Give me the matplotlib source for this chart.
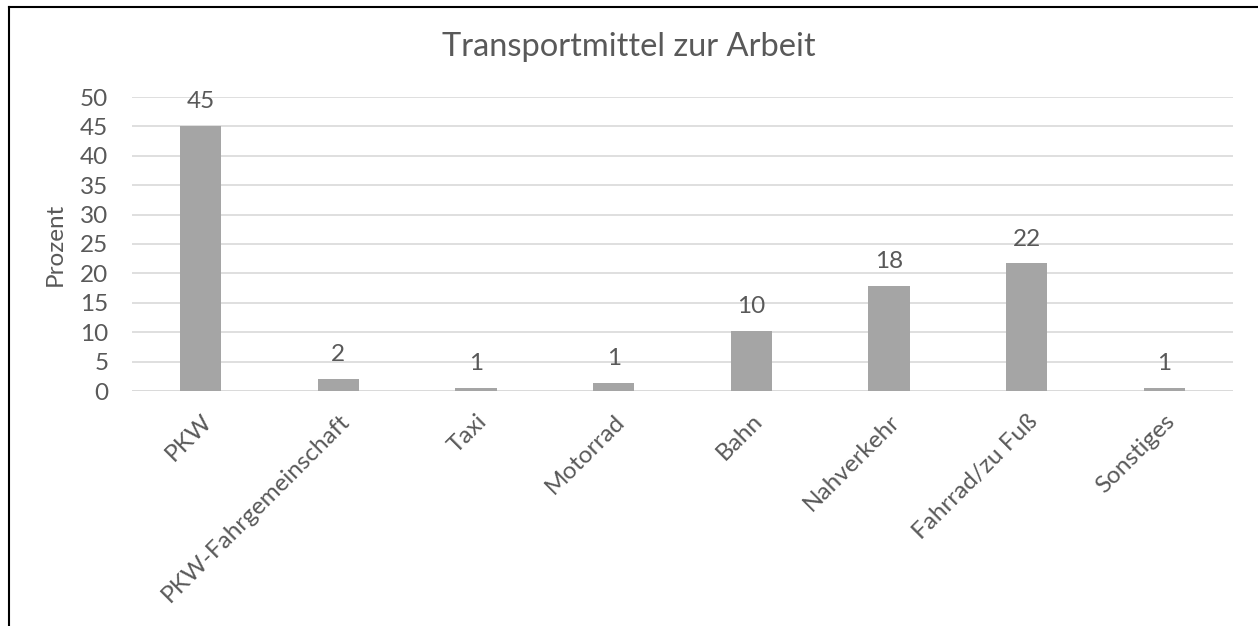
import matplotlib.pyplot as plt
from matplotlib.lines import Line2D

categories = ['PKW', 'PKW-Fahrgemeinschaft', 'Taxi', 'Motorrad', 'Bahn',
              'Nahverkehr', 'Fahrrad/zu Fuß', 'Sonstiges']
values = [45.1, 2.1, 0.5, 1.3, 10.2, 17.9, 21.7, 0.5]
labels = ['45', '2', '1', '1', '10', '18', '22', '1']
yticks = list(range(0, 55, 5))

text_color = '#595959'
fs = 17.5
plt.rcParams['font.family'] = ['Lato', 'DejaVu Sans']

fig = plt.figure(figsize=(12.58, 6.26), dpi=100)
ax = fig.add_axes([132 / 1258, (626 - 391) / 626, 1101 / 1258, 294 / 626])

x = range(len(categories))
ax.bar(x, values, width=0.3, color='#A5A5A5', zorder=3)
for xi, v, lab in zip(x, values, labels):
    ax.annotate(lab, (xi, v), xytext=(0, 10), textcoords='offset points',
                ha='center', va='bottom', fontsize=fs, color=text_color)

ax.set_xlim(-0.5, len(categories) - 0.5)
ax.set_ylim(0, 50)
ax.set_yticks(yticks)
ax.set_yticklabels([str(t) for t in yticks], fontsize=fs, color=text_color)
ax.set_xticks(list(x))
ax.set_xticklabels(categories, rotation=45, ha='right', rotation_mode='anchor',
                   fontsize=fs, color=text_color)
ax.tick_params(length=0, axis='y', pad=17)
ax.tick_params(length=0, axis='x', pad=14)
ax.grid(axis='y', color='#D9D9D9', linewidth=1.2, zorder=0)
for s in ax.spines.values():
    s.set_visible(False)
ax.axhline(0, color='#D9D9D9', linewidth=1.2, zorder=2)
ax.set_ylabel('Prozent', fontsize=fs, color=text_color, labelpad=10)

fig.text(0.5, 1 - 47 / 626, 'Transportmittel zur Arbeit', ha='center', va='center',
         fontsize=23.5, color=text_color)

# outer frame (top and left edges visible)
fig.add_artist(Line2D([8.5 / 1258, 8.5 / 1258], [0, 1 - 6.5 / 626], color='black', linewidth=1.5,
                      transform=fig.transFigure))
fig.add_artist(Line2D([8.5 / 1258, 1], [1 - 6.5 / 626, 1 - 6.5 / 626], color='black', linewidth=1.5,
                      transform=fig.transFigure))

fig.savefig('out.png', dpi=100, facecolor='white')
